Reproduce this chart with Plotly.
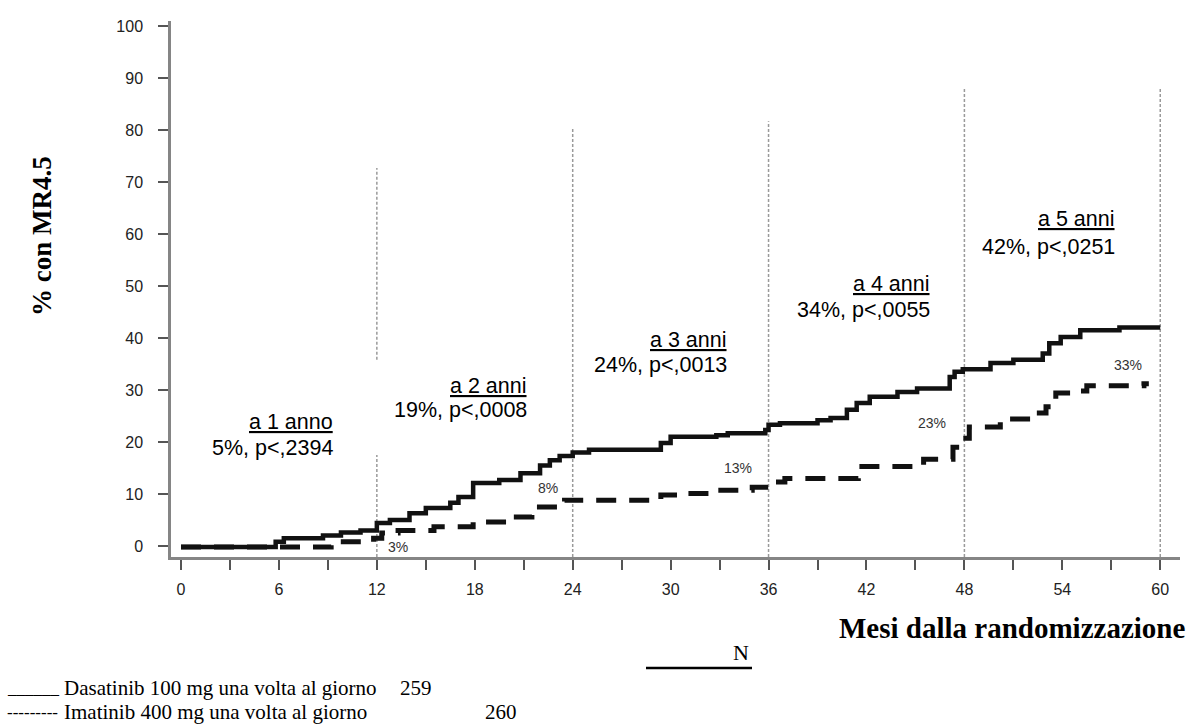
import plotly.graph_objects as go

# ---------------- data ----------------
dasa_months = [0, 5.8, 6.3, 8.7, 9.8, 11.0, 12.0, 12.8, 14.0, 15.0, 16.5, 17.0, 17.9, 19.5,
               20.8, 22.0, 22.6, 23.2, 24.0, 25.0, 29.4, 30.0, 32.8, 33.5, 35.8, 36.0, 36.7,
               39.0, 39.8, 40.8, 41.4, 42.2, 43.9, 45.1, 47.1, 47.4, 47.9, 49.6, 51.0, 52.8,
               53.2, 53.9, 55.1, 57.5, 60.0]
dasa_pct = [-0.2, 0.8, 1.5, 2.0, 2.6, 3.0, 4.4, 5.0, 6.3, 7.3, 8.3, 9.4, 12.1, 12.7,
            14.0, 15.5, 16.5, 17.3, 18.0, 18.5, 19.8, 21.0, 21.3, 21.7, 22.3, 23.3, 23.6,
            24.2, 24.6, 26.2, 27.5, 28.7, 29.6, 30.3, 32.5, 33.5, 34.0, 35.2, 35.8, 37.0,
            39.0, 40.2, 41.5, 42.0, 42.0]

imat_months = [0, 7.0, 9.2, 11.8, 12.3, 13.3, 15.5, 17.9, 20.0, 21.5, 23.5, 29.4, 30.5, 32.8,
               35.0, 36.0, 37.0, 41.5, 44.9, 45.5, 47.3, 47.9, 48.3, 50.2, 52.4, 53.0, 53.6,
               54.8, 55.5, 59.0, 59.3]
imat_pct = [-0.2, -0.2, 0.8, 1.5, 2.5, 3.0, 3.7, 4.6, 5.6, 7.5, 8.8, 9.8, 10.1, 10.7,
            11.3, 12.3, 13.0, 15.3, 15.6, 16.7, 19.0, 20.7, 22.9, 24.4, 25.6, 26.8, 29.4,
            29.8, 30.8, 31.2, 31.2]

x_ticks = list(range(0, 61, 3))
x_labels = [str(v) if v % 6 == 0 else "" for v in x_ticks]
y_ticks = list(range(0, 101, 10))

# yearly reference lines: month, top value
ref_months = [12, 24, 36, 48, 60]
ref_tops = [72.7, 80.2, 81.7, 88.0, 88.0]

# yearly annotations
year_titles = ["a 1 anno", "a 2 anni", "a 3 anni", "a 4 anni", "a 5 anni"]
year_stats = ["5%, p<,2394", "19%, p<,0008", "24%, p<,0013", "34%, p<,0055", "42%, p<,0251"]
year_right = [9.44, 21.3, 33.6, 46.0, 57.35]
year_title_y = [23.8, 30.8, 39.6, 50.4, 62.9]
year_stat_y = [18.9, 26.2, 34.8, 45.4, 57.5]

# imatinib yearly percentages
imat_labels = ["3%", "8%", "13%", "23%", "33%"]
imat_label_x = [13.3, 22.5, 34.1, 46.0, 58.0]
imat_label_y = [-0.2, 11.2, 15.0, 23.7, 34.8]

legend_marks = ["______", "---------"]
legend_names = ["Dasatinib 100 mg una volta al giorno", "Imatinib 400 mg una volta al giorno"]
legend_n = ["259", "260"]

# ---------------- figure ----------------
W, H = 1190, 724
L, R, T, B = 171, 1180, 21, 557


def px(x):
    return (x - L) / (R - L)


def py(y):
    return (B - y) / (B - T)


fig = go.Figure()

fig.add_trace(go.Scatter(x=dasa_months, y=dasa_pct, mode="lines", line_shape="hv",
                         line=dict(color="#111111", width=4.5), showlegend=False))
fig.add_trace(go.Scatter(x=imat_months, y=imat_pct, mode="lines", line_shape="hv",
                         line=dict(color="#111111", width=5, dash="20px,13px"), showlegend=False))

shapes = []
for m, top in zip(ref_months, ref_tops):
    if m == 12:
        segs = [(-2.1, 17.5), (35.8, top)]
    else:
        segs = [(-2.1, top)]
    for y0, y1 in segs:
        shapes.append(dict(type="line", xref="x", yref="y", x0=m, x1=m, y0=y0, y1=y1,
                           line=dict(color="#9a9a9a", width=1.5, dash="3px,2px"), layer="below"))

# underline under "N"
shapes.append(dict(type="line", xref="paper", yref="paper", x0=px(646), x1=px(752),
                   y0=py(668), y1=py(668), line=dict(color="black", width=2.5)))

annotations = []
sans = "Arial, Liberation Sans, sans-serif"
serif = "Times New Roman, Liberation Serif, serif"
for t, s, xr, ty, sy in zip(year_titles, year_stats, year_right, year_title_y, year_stat_y):
    annotations.append(dict(x=xr, y=ty, xref="x", yref="y", text="<u>" + t + "</u>",
                            showarrow=False, xanchor="right", yanchor="middle",
                            font=dict(family=sans, size=21.5, color="black")))
    annotations.append(dict(x=xr, y=sy, xref="x", yref="y", text=s,
                            showarrow=False, xanchor="right", yanchor="middle",
                            font=dict(family=sans, size=21.5, color="black")))

for t, xv, yv in zip(imat_labels, imat_label_x, imat_label_y):
    annotations.append(dict(x=xv, y=yv, xref="x", yref="y", text=t, showarrow=False,
                            xanchor="center", yanchor="middle",
                            font=dict(family=sans, size=14, color="#333333")))

# axis titles
annotations.append(dict(x=px(1187), y=py(628), xref="paper", yref="paper",
                        text="<b>Mesi dalla randomizzazione</b>", showarrow=False,
                        xanchor="right", yanchor="middle",
                        font=dict(family=serif, size=29, color="black")))
annotations.append(dict(x=px(42), y=py(236), xref="paper", yref="paper",
                        text="<b>% con MR4.5</b>", showarrow=False, textangle=-90,
                        xanchor="center", yanchor="middle",
                        font=dict(family=serif, size=27, color="black")))

# legend block
annotations.append(dict(x=px(741), y=py(652), xref="paper", yref="paper", text="N",
                        showarrow=False, xanchor="center", yanchor="middle",
                        font=dict(family=serif, size=22, color="black")))
leg_y = [688, 712]
for mark, name, n, yy, nx in zip(legend_marks, legend_names, legend_n, leg_y, [398, 483]):
    annotations.append(dict(x=px(5), y=py(yy), xref="paper", yref="paper", text=mark,
                            showarrow=False, xanchor="left", yanchor="middle",
                            font=dict(family=serif, size=17, color="black")))
    annotations.append(dict(x=px(62), y=py(yy), xref="paper", yref="paper", text=name,
                            showarrow=False, xanchor="left", yanchor="middle",
                            font=dict(family=serif, size=21, color="black")))
    annotations.append(dict(x=px(nx), y=py(yy), xref="paper", yref="paper", text=n,
                            showarrow=False, xanchor="left", yanchor="middle",
                            font=dict(family=serif, size=21, color="black")))

fig.update_layout(
    width=W, height=H,
    margin=dict(l=L, r=W - R, t=T, b=H - B, pad=0),
    paper_bgcolor="white", plot_bgcolor="white",
    showlegend=False,
    shapes=shapes, annotations=annotations,
    xaxis=dict(range=[-0.613, 61.21], tickmode="array", tickvals=x_ticks, ticktext=x_labels,
               showline=True, linecolor="#858585", linewidth=2.5, ticks="outside",
               ticklen=10, tickwidth=2, tickcolor="#555555", ticklabelstandoff=6,
               showgrid=False, zeroline=False,
               tickfont=dict(family=sans, size=16, color="#222222")),
    yaxis=dict(range=[-2.115, 100.96], tickmode="array", tickvals=y_ticks,
               showline=True, linecolor="#858585", linewidth=2.5, ticks="outside",
               ticklen=10, tickwidth=2, tickcolor="#555555", ticklabelstandoff=12,
               showgrid=False, zeroline=False,
               tickfont=dict(family=sans, size=16, color="#222222")),
)

fig.write_html("out.html", config={"displayModeBar": False},
               post_script="document.body.style.margin='0px';document.body.style.overflow='hidden';")
